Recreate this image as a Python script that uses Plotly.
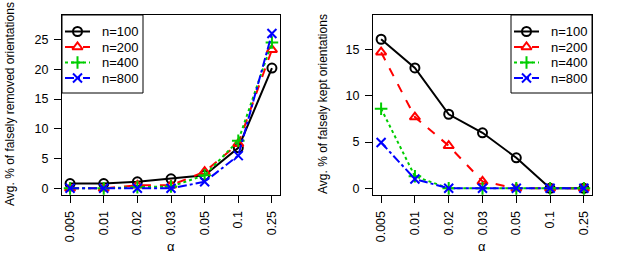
import plotly.graph_objects as go

alpha_labels = ["0.005", "0.01", "0.02", "0.03", "0.05", "0.1", "0.25"]
series_names = ["n=100", "n=200", "n=400", "n=800"]

removed_n100 = [0.8, 0.8, 1.1, 1.6, 2.2, 6.8, 20.2]
removed_n200 = [0.0, 0.0, 0.5, 0.5, 2.8, 7.5, 23.3]
removed_n400 = [0.0, 0.0, 0.2, 0.3, 2.2, 8.0, 24.5]
removed_n800 = [0.0, 0.0, 0.0, 0.0, 1.1, 5.5, 26.0]

kept_n100 = [16.1, 13.0, 8.0, 6.0, 3.3, 0.0, 0.0]
kept_n200 = [14.7, 7.7, 4.6, 0.75, 0.0, 0.0, 0.0]
kept_n400 = [8.6, 1.3, 0.0, 0.0, 0.0, 0.0, 0.0]
kept_n800 = [4.95, 1.0, 0.0, 0.0, 0.0, 0.0, 0.0]

colors = ["black", "red", "#00cd00", "blue"]
dashes = ["solid", "dash", "dot", "dashdot"]
symbols = ["circle-open", "triangle-up-open", "cross-thin-open", "x-thin-open"]

FONT = "Liberation Sans, Arial, Helvetica, sans-serif"
W, H = 623, 273
xpos = list(range(1, len(alpha_labels) + 1))

fig = go.Figure()


def marker_style(c, s):
    return dict(symbol=s, size=9, color=c, line=dict(color=c, width=2))


def add_series(data, xa, ya):
    for name, vals, c, d, s in zip(series_names, data, colors, dashes, symbols):
        fig.add_trace(go.Scatter(
            x=xpos, y=vals, name=name, mode="lines+markers",
            xaxis=xa, yaxis=ya, showlegend=False,
            line=dict(color=c, dash=d, width=2),
            marker=marker_style(c, s),
        ))


add_series([removed_n100, removed_n200, removed_n400, removed_n800], "x", "y")
add_series([kept_n100, kept_n200, kept_n400, kept_n800], "x2", "y2")

# ---- hand-built legends (R-style boxes) on an overlay pixel axis ----
annotations = []


def add_legend(box, line_x, text_x, rows):
    x0, y0, x1, y1 = box
    fig.add_trace(go.Scatter(
        x=[x0, x1, x1, x0, x0], y=[y0, y0, y1, y1, y0], mode="lines",
        fill="toself", fillcolor="white", line=dict(color="black", width=1),
        xaxis="x3", yaxis="y3", showlegend=False, hoverinfo="skip"))
    for name, c, d, s, ry in zip(series_names, colors, dashes, symbols, rows):
        fig.add_trace(go.Scatter(
            x=[line_x[0], line_x[1]], y=[ry, ry], mode="lines",
            line=dict(color=c, dash=d, width=2),
            xaxis="x3", yaxis="y3", showlegend=False, hoverinfo="skip"))
        fig.add_trace(go.Scatter(
            x=[(line_x[0] + line_x[1]) / 2], y=[ry], mode="markers",
            marker=marker_style(c, s),
            xaxis="x3", yaxis="y3", showlegend=False, hoverinfo="skip"))
        annotations.append(dict(
            text=name, x=text_x / W, y=1 - ry / H, xref="paper", yref="paper",
            xanchor="left", yanchor="middle", showarrow=False,
            font=dict(family=FONT, size=13, color="black")))


legend_rows = [31.5, 47, 62.5, 78]
add_legend((62, 15, 143, 93), (65, 90), 100, legend_rows)
add_legend((511, 15, 592, 93), (514, 539), 549, legend_rows)

axis_common = dict(
    showline=True, linecolor="black", linewidth=1, mirror=True,
    ticks="outside", ticklen=7, tickcolor="black", tickwidth=1,
    showgrid=False, zeroline=False, ticklabelstandoff=3,
    tickfont=dict(family=FONT, size=12.5, color="black"),
)

xcommon = dict(axis_common, tickmode="array", tickvals=xpos, ticktext=alpha_labels,
               tickangle=-90, range=[0.76, 7.24])

annotations += [
    dict(text="Avg. % of falsely removed orientations", x=10 / W, y=1 - 104 / H,
         xref="paper", yref="paper", xanchor="center", yanchor="middle",
         textangle=-90, showarrow=False, font=dict(family=FONT, size=12)),
    dict(text="Avg. % of falsely kept orientations", x=323 / W, y=1 - 104 / H,
         xref="paper", yref="paper", xanchor="center", yanchor="middle",
         textangle=-90, showarrow=False, font=dict(family=FONT, size=12)),
    dict(text="α", x=171 / W, y=1 - 246 / H, xref="paper", yref="paper",
         xanchor="center", yanchor="middle",
         showarrow=False, font=dict(family=FONT, size=13)),
    dict(text="α", x=482 / W, y=1 - 246 / H, xref="paper", yref="paper",
         xanchor="center", yanchor="middle",
         showarrow=False, font=dict(family=FONT, size=13)),
]

fig.update_layout(
    width=W, height=H,
    margin=dict(l=0, r=0, t=0, b=0),
    paper_bgcolor="white", plot_bgcolor="rgba(0,0,0,0)",
    font=dict(family=FONT, size=13, color="black"),
    showlegend=False,
    xaxis=dict(xcommon, domain=[62 / W, 280 / W], anchor="y"),
    yaxis=dict(axis_common, domain=[1 - 195 / H, 1 - 15 / H], anchor="x",
               range=[-1.12, 29.12], tickvals=[0, 5, 10, 15, 20, 25]),
    xaxis2=dict(xcommon, domain=[373 / W, 592 / W], anchor="y2"),
    yaxis2=dict(axis_common, domain=[1 - 195 / H, 1 - 15 / H], anchor="x2",
                range=[-0.72, 18.72], tickvals=[0, 5, 10, 15]),
    xaxis3=dict(domain=[0, 1], range=[0, W], visible=False, fixedrange=True, anchor="y3"),
    yaxis3=dict(domain=[0, 1], range=[H, 0], visible=False, fixedrange=True, anchor="x3"),
    annotations=annotations,
)

fig.write_html(
    "out.html",
    config={"displayModeBar": False},
    post_script="document.body.style.margin='0';document.body.style.padding='0';",
)
